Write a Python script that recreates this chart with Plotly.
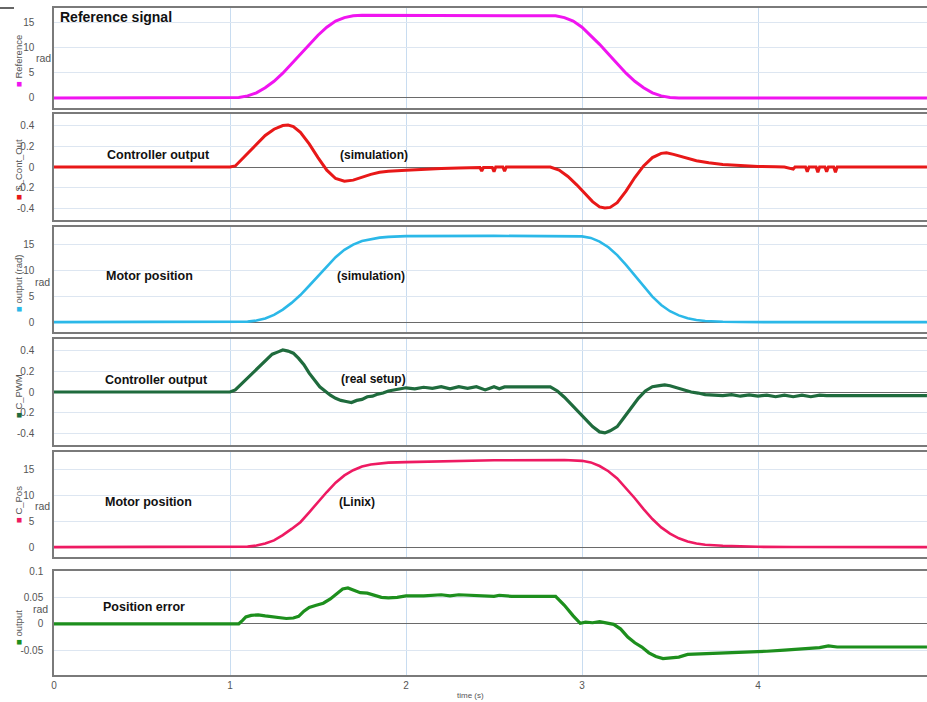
import plotly.graph_objects as go
from plotly.subplots import make_subplots

# ---------------- data ----------------
ref_t = [0, 1.00, 1.05, 1.10, 1.15, 1.20, 1.25, 1.30, 1.35, 1.40, 1.45, 1.50, 1.55, 1.60, 1.65, 1.70, 1.75, 1.80,
         2.80, 2.85, 2.90, 2.95, 3.00, 3.05, 3.10, 3.15, 3.20, 3.25, 3.30, 3.35, 3.40, 3.45, 3.50, 3.55, 4.96]
ref_v = [0, 0, 0.1, 0.4, 1.0, 2.0, 3.3, 4.9, 6.8, 8.7, 10.6, 12.4, 14.0, 15.2, 15.9, 16.25, 16.35, 16.35,
         16.35, 16.25, 15.9, 15.2, 14.0, 12.4, 10.6, 8.7, 6.8, 4.9, 3.3, 2.0, 1.0, 0.4, 0.1, 0, 0]

simu_t = [0, 1.00, 1.03, 1.06, 1.10, 1.15, 1.20, 1.25, 1.30, 1.33, 1.36, 1.40, 1.45, 1.50, 1.55, 1.60, 1.65, 1.70,
          1.75, 1.80, 1.85, 1.90, 2.00, 2.10, 2.20, 2.30, 2.42, 2.43, 2.44, 2.49, 2.50, 2.51, 2.55, 2.56, 2.57,
          2.60, 2.82, 2.87, 2.92, 2.97, 3.02, 3.06, 3.10, 3.13, 3.16, 3.20, 3.25, 3.30, 3.35, 3.40, 3.45, 3.48,
          3.52, 3.58, 3.65, 3.72, 3.80, 3.90, 4.00, 4.10, 4.15, 4.20, 4.21, 4.27, 4.28, 4.29, 4.33, 4.34, 4.35,
          4.38, 4.39, 4.40, 4.43, 4.44, 4.45, 4.96]
simu_v = [0, 0, 0.01, 0.06, 0.13, 0.22, 0.30, 0.36, 0.395, 0.40, 0.385, 0.33, 0.22, 0.09, -0.03, -0.11, -0.135, -0.125,
          -0.095, -0.07, -0.05, -0.04, -0.03, -0.02, -0.015, -0.01, -0.005, -0.04, -0.005, -0.005, -0.045, 0, 0, -0.04, 0,
          0, 0, -0.03, -0.09, -0.17, -0.26, -0.33, -0.38, -0.39, -0.385, -0.34, -0.23, -0.10, 0.01, 0.09, 0.13, 0.135,
          0.12, 0.09, 0.06, 0.04, 0.025, 0.015, 0.005, 0.003, 0, -0.02, 0, 0, -0.045, 0, 0, -0.05, 0,
          0, -0.045, 0, 0, -0.05, 0, 0]

simp_t = [0, 1.05, 1.10, 1.15, 1.20, 1.25, 1.30, 1.35, 1.40, 1.45, 1.50, 1.55, 1.60, 1.65, 1.70, 1.75, 1.80, 1.85,
          1.90, 1.95, 2.00, 2.50, 3.00, 3.05, 3.10, 3.15, 3.20, 3.25, 3.30, 3.35, 3.40, 3.45, 3.50, 3.55, 3.60,
          3.65, 3.70, 3.80, 3.90, 4.96]
simp_v = [0, 0.02, 0.1, 0.3, 0.7, 1.4, 2.4, 3.7, 5.2, 7.0, 8.9, 10.8, 12.5, 13.9, 14.9, 15.6, 16.0, 16.25,
          16.4, 16.5, 16.55, 16.6, 16.5, 16.2, 15.5, 14.4, 12.9, 11.0, 8.9, 6.8, 4.9, 3.3, 2.1, 1.3, 0.75,
          0.42, 0.22, 0.06, 0.01, 0]

pwm_t = [0, 1.00, 1.03, 1.06, 1.09, 1.12, 1.15, 1.18, 1.21, 1.24, 1.27, 1.30, 1.33, 1.36, 1.39, 1.42, 1.45, 1.48,
         1.51, 1.54, 1.57, 1.60, 1.63, 1.66, 1.69, 1.72, 1.75, 1.78, 1.81, 1.84, 1.87, 1.90, 1.93, 1.96, 2.00,
         2.05, 2.10, 2.15, 2.20, 2.25, 2.30, 2.35, 2.40, 2.45, 2.50, 2.53, 2.56, 2.82, 2.86, 2.90, 2.94, 2.98,
         3.02, 3.06, 3.10, 3.13, 3.16, 3.20, 3.24, 3.28, 3.32, 3.36, 3.40, 3.44, 3.47, 3.50, 3.54, 3.58, 3.62,
         3.66, 3.70, 3.75, 3.80, 3.85, 3.90, 3.95, 4.00, 4.05, 4.10, 4.15, 4.20, 4.25, 4.30, 4.35, 4.39, 4.96]
pwm_v = [0, 0, 0.02, 0.07, 0.11, 0.17, 0.21, 0.27, 0.31, 0.36, 0.38, 0.40, 0.39, 0.37, 0.32, 0.26, 0.18, 0.11,
         0.05, 0.01, -0.03, -0.06, -0.08, -0.09, -0.10, -0.08, -0.07, -0.045, -0.04, -0.02, -0.01, 0.01, 0.02, 0.03, 0.04,
         0.03, 0.045, 0.035, 0.05, 0.03, 0.05, 0.035, 0.05, 0.02, 0.05, 0.03, 0.048, 0.048, 0.01, -0.05, -0.12, -0.19,
         -0.26, -0.33, -0.38, -0.39, -0.37, -0.33, -0.24, -0.15, -0.06, 0.01, 0.05, 0.06, 0.068, 0.06, 0.04, 0.02, 0.0,
         -0.01, -0.025, -0.03, -0.035, -0.025, -0.04, -0.028, -0.04, -0.03, -0.045, -0.03, -0.045, -0.03, -0.045, -0.03, -0.035, -0.035]

pos_t = [0, 1.05, 1.10, 1.15, 1.20, 1.25, 1.30, 1.35, 1.40, 1.45, 1.50, 1.55, 1.60, 1.65, 1.70, 1.75, 1.80, 1.85,
         1.90, 1.95, 2.00, 2.50, 2.90, 3.00, 3.05, 3.10, 3.15, 3.20, 3.25, 3.30, 3.35, 3.40, 3.45, 3.50, 3.55,
         3.60, 3.65, 3.70, 3.80, 3.90, 4.00, 4.20, 4.96]
pos_v = [0, 0.02, 0.1, 0.3, 0.7, 1.3, 2.3, 3.5, 4.8, 6.7, 8.7, 10.6, 12.4, 13.8, 14.8, 15.5, 15.9, 16.1,
         16.25, 16.3, 16.35, 16.7, 16.75, 16.6, 16.3, 15.6, 14.6, 13.2, 11.4, 9.4, 7.3, 5.4, 3.8, 2.6, 1.7,
         1.1, 0.7, 0.45, 0.25, 0.12, 0.06, 0.02, 0]

err_t = [0, 1.05, 1.07, 1.09, 1.12, 1.16, 1.20, 1.24, 1.28, 1.32, 1.36, 1.39, 1.42, 1.45, 1.49, 1.53, 1.57, 1.61,
         1.64, 1.67, 1.70, 1.74, 1.78, 1.82, 1.86, 1.90, 1.95, 2.00, 2.10, 2.20, 2.25, 2.30, 2.40, 2.50, 2.53,
         2.60, 2.85, 2.90, 2.95, 2.99, 3.02, 3.06, 3.10, 3.14, 3.18, 3.22, 3.26, 3.30, 3.34, 3.38, 3.42, 3.46,
         3.50, 3.55, 3.60, 3.70, 3.80, 3.90, 3.95, 4.05, 4.15, 4.25, 4.35, 4.40, 4.45, 4.96]
err_v = [0, 0, 0.006, 0.013, 0.016, 0.017, 0.015, 0.013, 0.011, 0.010, 0.011, 0.014, 0.024, 0.031, 0.035, 0.039, 0.047, 0.058,
         0.066, 0.068, 0.064, 0.059, 0.058, 0.054, 0.050, 0.049, 0.050, 0.053, 0.053, 0.055, 0.053, 0.055, 0.054, 0.052, 0.054,
         0.052, 0.052, 0.035, 0.015, 0.001, 0.003, 0.002, 0.004, 0.002, -0.001, -0.010, -0.025, -0.036, -0.044, -0.055, -0.062, -0.066,
         -0.065, -0.063, -0.058, -0.057, -0.056, -0.055, -0.053, -0.052, -0.050, -0.048, -0.045, -0.042, -0.044, -0.044]

x_ticks = [0, 1, 2, 3, 4]
y_ticks = [[0, 5, 10, 15], [-0.4, -0.2, 0, 0.2, 0.4], [0, 5, 10, 15],
           [-0.4, -0.2, 0, 0.2, 0.4], [0, 5, 10, 15], [-0.05, 0, 0.05, 0.1]]
y_ticktext = [["0", "5", "10", "15"], ["-0.4", "-0.2", "0", "0.2", "0.4"], ["0", "5", "10", "15"],
              ["-0.4", "-0.2", "0", "0.2", "0.4"], ["0", "5", "10", "15"], ["-0.05", "0", "0.05", "0.1"]]
series_names = ["Reference", "S_Cont_Out", "output (rad)", "C_PWM", "C_Pos", "output"]
panel_labels = ["Reference signal", "Controller output", "Motor position", "Controller output",
                "Motor position", "Position error"]
panel_notes = ["", "(simulation)", "(simulation)", "(real setup)", "(Linix)", ""]

# ---------------- layout ----------------
W, H = 927, 702
L = 54
colors = ["#f014f0", "#e81818", "#2bb8e8", "#1f6b3d", "#ee1a62", "#1d8f1d"]
widths = [3, 3, 2.6, 3.2, 2.6, 3.2]
tops = [8, 114, 227, 339, 452, 571]
bots = [108, 220, 332, 445, 557, 675]
y_ranges = [[-2.0, 17.8], [-0.505, 0.505], [-1.9, 18.3], [-0.505, 0.505], [-1.9, 18.3], [-0.097, 0.1]]
xr = [0, (W - L) / 176.0]


def px(x):
    return (x - L) / (W - L)


def py(y):
    return 1 - y / H


fig = make_subplots(rows=6, cols=1, shared_xaxes=True)
data = [(ref_t, ref_v), (simu_t, simu_v), (simp_t, simp_v), (pwm_t, pwm_v), (pos_t, pos_v), (err_t, err_v)]
for i, (t, v) in enumerate(data):
    fig.add_trace(go.Scatter(x=t, y=v, mode="lines", line=dict(color=colors[i], width=widths[i]),
                             hoverinfo="skip", showlegend=False), row=i + 1, col=1)

font_family = "Liberation Sans, Arial, sans-serif"
for i in range(6):
    n = "" if i == 0 else str(i + 1)
    fig.layout["xaxis" + n].update(
        range=xr, tickvals=x_ticks, showgrid=True, gridcolor="#c8dcf0", gridwidth=1,
        zeroline=False, showline=True, mirror=True, linecolor="#7a7a7a", linewidth=1.5,
        ticks="", showticklabels=(i == 5), tickfont=dict(size=10, color="#555", family=font_family),
        domain=[0, 1], automargin=False)
    fig.layout["yaxis" + n].update(
        range=y_ranges[i], tickvals=y_ticks[i], ticktext=y_ticktext[i], showgrid=True, gridcolor="#dde6f1",
        gridwidth=1, zeroline=True, zerolinecolor="#6a6a6a", zerolinewidth=1,
        showline=True, mirror=False, linecolor="#7a7a7a", linewidth=1.5, ticks="",
        ticklabelstandoff=(7 if i == 5 else 16),
        tickfont=dict(size=10, color="#555", family=font_family),
        domain=[py(bots[i]), py(tops[i])], automargin=False)

ann = []
# rotated series names with coloured markers
rot_centers = [61, 170, 283, 396, 505, 628]
for i in range(6):
    ann.append(dict(xref="paper", yref="paper", x=px(18), y=py(rot_centers[i]), xanchor="center", yanchor="middle",
                    text=f"<span style='color:{colors[i]}'>■</span> {series_names[i]}", textangle=-90,
                    showarrow=False, font=dict(size=9.5, color="#555", family=font_family)))
# "rad" unit labels
for (xx, yy) in [(43, 58), (42, 282), (42, 506), (40, 609)]:
    ann.append(dict(xref="paper", yref="paper", x=px(xx), y=py(yy), xanchor="center", yanchor="middle",
                    text="rad", showarrow=False, font=dict(size=10.5, color="#555", family=font_family)))
# bold labels inside panels
lab_pos = [(58, 17, 14), (105, 155, 12.5), (104, 276, 12.5), (103, 380, 12.5), (103, 502, 12.5), (101, 607, 12.5)]
note_pos = [None, (338, 155), (335, 276), (339, 379), (337, 502), None]
for i in range(6):
    x0, y0, fs = lab_pos[i]
    ann.append(dict(xref="paper", yref="paper", x=px(x0), y=py(y0), xanchor="left", yanchor="middle",
                    text=f"<b>{panel_labels[i]}</b>", showarrow=False,
                    font=dict(size=fs, color="#111", family=font_family)))
    if note_pos[i]:
        ann.append(dict(xref="paper", yref="paper", x=px(note_pos[i][0]), y=py(note_pos[i][1]),
                        xanchor="left", yanchor="middle", text=f"<b>{panel_notes[i]}</b>", showarrow=False,
                        font=dict(size=12, color="#111", family=font_family)))
ann.append(dict(xref="paper", yref="paper", x=px(470), y=py(695), xanchor="center", yanchor="middle",
                text="time (s)", showarrow=False, font=dict(size=8, color="#555", family=font_family)))

fig.update_layout(
    width=W, height=H, margin=dict(l=L, r=0, t=0, b=0, autoexpand=False),
    paper_bgcolor="white", plot_bgcolor="white", annotations=ann, showlegend=False,
    shapes=[dict(type="line", xref="paper", yref="paper", x0=px(0), x1=px(14), y0=py(8), y1=py(8),
                 line=dict(color="#333", width=1.5))],
)

fig.write_html("out.html", config={"displayModeBar": False},
               post_script="document.body.style.margin='0px';document.body.style.overflow='hidden';")
